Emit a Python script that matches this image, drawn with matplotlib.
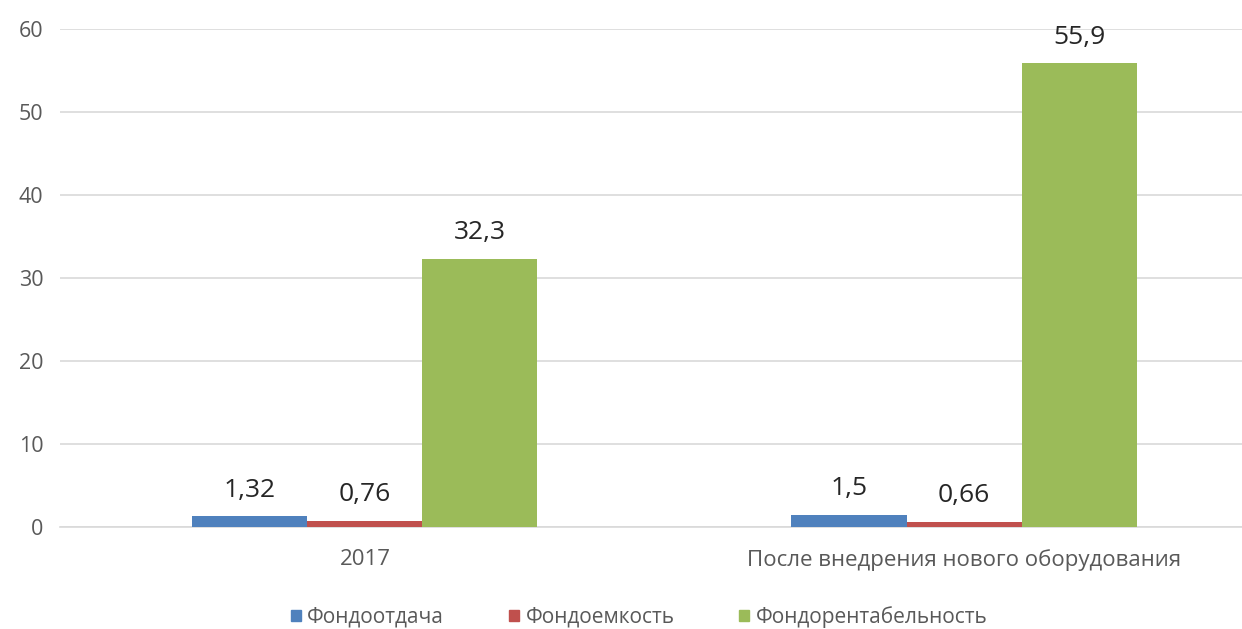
import numpy as np
import matplotlib.pyplot as plt
from matplotlib.patches import Patch

plt.rcParams['font.family'] = ['Open Sans', 'DejaVu Sans']

categories = ['2017', 'После внедрения нового оборудования']
series_names = ['Фондоотдача', 'Фондоемкость', 'Фондорентабельность']
fondootdacha = [1.32, 1.5]
fondoemkost = [0.76, 0.66]
fondorent = [32.3, 55.9]
value_labels = [['1,32', '1,5'], ['0,76', '0,66'], ['32,3', '55,9']]

colors = ['#4F81BD', '#C0504D', '#9BBB59']
grey_text = '#595959'

fig = plt.figure(figsize=(12.42, 6.29), dpi=100)
ax = fig.add_axes([60 / 1242, 102 / 629, 1 - 60 / 1242, 498 / 629])

x = np.arange(len(categories))
width = 0.192
for i, (vals, col) in enumerate(zip([fondootdacha, fondoemkost, fondorent], colors)):
    bars = ax.bar(x + (i - 1) * width, vals, width, color=col, zorder=3)
    for b, lab in zip(bars, value_labels[i]):
        ax.annotate(lab, (b.get_x() + b.get_width() / 2, b.get_height()),
                    xytext=(0, 14), textcoords='offset points',
                    ha='center', va='baseline', fontsize=19, color='#262626')

ax.set_ylim(0, 60)
ax.set_yticks(range(0, 61, 10))
ax.set_xlim(-0.509, 1.464)
ax.set_xticks(x)
ax.set_xticklabels(categories)
ax.tick_params(axis='both', length=0, colors=grey_text)
ax.tick_params(axis='y', pad=12, labelsize=15.5)
ax.tick_params(axis='x', pad=16, labelsize=16)
ax.grid(axis='y', color='#D9D9D9', linewidth=1.2, zorder=0)
for s in ['top', 'right', 'left']:
    ax.spines[s].set_visible(False)
ax.spines['bottom'].set_color('#D9D9D9')
ax.spines['bottom'].set_linewidth(1.2)

handles = [Patch(color=c, label=n) for c, n in zip(colors, series_names)]
leg = fig.legend(handles=handles, loc='center', bbox_to_anchor=(639 / 1242, 12 / 629),
                 ncol=3, frameon=False, fontsize=15, handlelength=0.5,
                 handleheight=0.5, handletextpad=0.3, columnspacing=3.1)
for t in leg.get_texts():
    t.set_color(grey_text)

plt.savefig('out.png', dpi=100)
